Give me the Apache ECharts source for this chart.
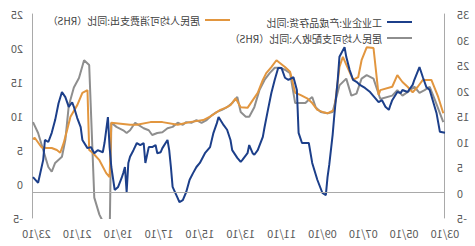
<!DOCTYPE html>
<html>
<head>
<meta charset="utf-8">
<script src="https://cdn.jsdelivr.net/npm/echarts@6/dist/echarts.min.js"></script>
<style>
html,body{margin:0;padding:0;background:#fff;}
#chart{width:475px;height:246px;transform:scaleX(-1);}
</style>
</head>
<body>
<div id="chart"></div>
<script>
// ---- data ----
const xTickLabels = ['03/10','05/10','07/10','09/10','11/10','13/10','15/10','17/10','19/10','21/10','23/10'];

const inventoryName = '工业企业:产成品存货:同比';
const inventoryDates = ['2003-10','2004-01','2004-03','2004-07','2004-09','2004-11','2005-01','2005-04','2005-05','2005-08','2005-11','2005-12','2006-02','2006-05','2006-06','2006-07','2006-09','2006-11','2007-01','2007-03','2007-06','2007-09','2007-12','2008-02','2008-04','2008-06','2008-08','2008-09','2008-12','2009-01','2009-03','2009-04','2009-06','2009-07','2009-08','2009-10','2010-01','2010-04','2010-06','2010-10','2010-12','2011-01','2011-03','2011-06','2011-08','2011-10','2011-12','2012-02','2012-04','2012-06','2012-08','2012-09','2012-12','2013-02','2013-03','2013-05','2013-06','2013-09','2013-10','2013-12','2014-03','2014-04','2014-06','2014-08','2014-11','2014-12','2015-02','2015-04','2015-07','2015-10','2015-12','2016-02','2016-04','2016-06','2016-08','2016-10','2016-11','2017-02','2017-03','2017-04','2017-05','2017-08','2017-09','2017-11','2017-12','2018-02','2018-04','2018-06','2018-07','2018-09','2018-11','2019-01','2019-03','2019-04','2019-05','2019-06','2019-07','2019-08','2019-10','2019-12','2020-02','2020-03','2020-04','2020-06','2020-07','2020-10','2020-12','2021-01','2021-02','2021-04','2021-07','2021-08','2021-10','2021-12','2022-01','2022-03','2022-05','2022-07','2022-09','2022-11','2023-01','2023-03','2023-05','2023-06','2023-09','2023-12'];
const inventoryValues = [11.7,11.9,15.6,20.1,20.7,22.6,24.6,22.1,21.1,19.7,20.1,19.5,19.7,18.1,17.2,16.2,16.8,18.1,17.7,18.5,19.7,20.5,21.1,21.7,22.1,24.0,26.6,28.5,26.6,22.1,15.2,11.3,5.4,3.0,-0.5,-0.1,2.5,5.8,9.7,9.7,11.7,20.1,22.6,22.1,22.5,24.4,24.4,22.1,19.5,16.2,12.8,10.9,8.3,7.4,7.7,9.3,7.7,6.4,6.0,6.8,8.3,10.3,12.3,13.2,14.8,13.6,11.7,8.9,7.7,5.8,5.0,3.8,2.5,0.1,-1.5,-1.9,-1.1,1.1,5.0,8.3,10.3,8.7,7.9,7.7,9.3,8.9,8.9,5.8,9.7,9.3,9.7,8.3,7.0,5.8,0.1,5.0,3.8,2.8,1.1,0.5,5.0,8.9,14.8,9.7,7.9,8.3,7.7,8.3,8.9,8.7,10.3,12.8,14.6,16.8,17.7,16.8,18.7,19.7,17.5,14.2,11.7,9.9,10.3,6.4,1.9,3.0];

const incomeName = '居民人均可支配收入:同比（RHS）';
const incomeDates = ['2003-11','2004-04','2004-07','2004-10','2005-01','2005-04','2005-08','2005-11','2006-02','2006-05','2006-12','2007-04','2007-08','2007-11','2008-02','2008-05','2008-08','2008-12','2009-04','2009-07','2009-11','2010-02','2010-04','2010-06','2010-08','2011-02','2011-05','2011-08','2011-11','2012-02','2012-05','2012-08','2012-11','2013-02','2013-05','2013-07','2013-10','2013-12','2014-03','2014-06','2014-09','2014-12','2015-03','2015-06','2015-09','2015-12','2016-03','2016-06','2016-08','2016-11','2017-02','2017-05','2017-08','2017-11','2018-02','2018-04','2018-07','2018-12','2019-03','2019-05','2019-07','2019-11','2020-02','2020-03','2020-06','2020-09','2020-12','2021-03','2021-06','2021-09','2021-12','2022-03','2022-05','2022-07','2022-11','2023-01','2023-03','2023-06','2023-09','2023-12'];
const incomeValues = [9.1,12.4,14.3,13.8,13.4,14.3,13.5,13.0,13.8,13.0,12.5,15.5,16.0,15.5,13.3,13.0,15.5,14.5,10.6,10.4,10.6,11.3,12.8,12.4,11.9,11.9,16.3,16.8,17.1,17.1,16.3,15.3,13.8,11.3,9.9,9.9,10.6,12.8,11.9,11.3,10.9,10.6,10.1,9.4,9.0,9.4,9.0,9.1,8.7,9.0,8.4,8.2,7.6,7.5,7.2,7.9,8.2,9.0,7.9,7.5,7.9,8.4,9.0,-8.0,-6.0,-4.5,-2.0,17.5,18.2,15.6,14.2,11.5,6.5,4.0,3.1,1.8,2.5,5.0,7.5,9.1];

const spendingName = '居民人均可消费支出:同比（RHS）';
const spendingDates = ['2003-11','2004-02','2004-06','2004-11','2005-02','2005-05','2005-08','2005-11','2006-02','2006-05','2006-12','2007-01','2007-04','2007-08','2007-11','2008-01','2008-04','2008-10','2008-12','2009-03','2009-07','2009-10','2010-01','2010-04','2010-07','2010-11','2011-02','2011-05','2011-08','2011-11','2012-01','2012-04','2012-07','2012-09','2012-12','2013-06','2013-10','2014-01','2014-04','2014-07','2014-10','2015-01','2015-04','2015-08','2016-04','2016-11','2017-08','2018-03','2018-11','2019-03','2020-02','2020-03','2020-05','2020-09','2021-01','2021-03','2021-04','2021-07','2021-10','2022-02','2022-04','2022-06','2022-08','2022-10','2023-01','2023-04','2023-07','2023-11','2023-12'];
const spendingValues = [10.4,12.8,15.3,15.3,14.3,13.5,14.3,15.0,16.0,14.3,13.8,13.1,20.0,20.1,18.2,15.7,15.3,18.7,17.2,10.9,10.4,10.6,10.9,11.9,12.6,13.1,13.4,16.5,17.2,17.8,18.2,17.2,16.3,15.3,13.4,11.2,11.3,12.6,11.6,11.2,10.9,10.4,9.9,9.4,9.1,8.7,9.1,9.1,8.7,8.7,9.0,1.0,1.6,3.5,4.6,5.0,13.8,13.4,11.6,9.9,7.9,6.0,4.6,5.0,5.3,5.3,5.4,6.8,6.6];

// ---- helpers ----
function monthIndex(d) { // months since 2003-10
  const [y, m] = d.split('-').map(Number);
  return (y - 2003) * 12 + (m - 10);
}
function pairs(dates, values) { return dates.map((d, i) => [monthIndex(d), values[i]]); }

const chart = echarts.init(document.getElementById('chart'), null, {renderer: 'svg'});
const font = '"Noto Sans CJK SC", "Noto Sans", sans-serif';
const axisGrey = '#a9a9a9';

chart.setOption({
  animation: false,
  backgroundColor: '#fff',
  grid: {left: 30, right: 33, top: 14, bottom: 28},
  legend: [
    {data: [inventoryName, incomeName], orient: 'vertical', left: 58, top: 12, itemGap: 6,
     icon: 'rect', itemWidth: 25, itemHeight: 2,
     textStyle: {fontSize: 10, color: '#404040', fontFamily: font}},
    {data: [spendingName], left: 240, top: 10,
     icon: 'rect', itemWidth: 25, itemHeight: 2,
     textStyle: {fontSize: 10, color: '#404040', fontFamily: font}}
  ],
  xAxis: {
    type: 'value', min: 0, max: 242, interval: 24,
    axisLine: {show: false, onZero: false}, axisTick: {show: false}, splitLine: {show: false},
    axisLabel: {fontSize: 11, color: '#595959', fontFamily: font, margin: 9, showMaxLabel: false,
      formatter: v => xTickLabels[v / 24] || ''}
  },
  yAxis: [
    {type: 'value', min: -5, max: 35, interval: 5, position: 'left',
     axisLine: {show: true, lineStyle: {color: axisGrey, width: 1}}, axisTick: {show: false}, splitLine: {show: false},
     axisLabel: {fontSize: 11, color: '#595959', fontFamily: font, margin: 12}},
    {type: 'value', min: -5, max: 25, interval: 5, position: 'right',
     axisLine: {show: true, lineStyle: {color: axisGrey, width: 1}}, axisTick: {show: false}, splitLine: {show: false},
     axisLabel: {fontSize: 11, color: '#595959', fontFamily: font, margin: 10}}
  ],
  series: [
    {name: incomeName, type: 'line', yAxisIndex: 1, data: pairs(incomeDates, incomeValues),
     showSymbol: false, symbol: 'none', lineStyle: {color: '#8e8e8e', width: 2}, itemStyle: {color: '#8e8e8e'}, z: 2},
    {name: spendingName, type: 'line', yAxisIndex: 1, data: pairs(spendingDates, spendingValues),
     showSymbol: false, symbol: 'none', lineStyle: {color: '#e2963f', width: 2}, itemStyle: {color: '#e2963f'}, z: 3},
    {name: inventoryName, type: 'line', yAxisIndex: 0, data: pairs(inventoryDates, inventoryValues),
     showSymbol: false, symbol: 'none', lineStyle: {color: '#1c3f8a', width: 2}, itemStyle: {color: '#1c3f8a'}, z: 4,
     markLine: {silent: true, symbol: 'none', label: {show: false},
       lineStyle: {color: axisGrey, width: 1, type: 'solid'}, data: [{yAxis: 0}]}}
  ]
});
</script>
</body>
</html>
